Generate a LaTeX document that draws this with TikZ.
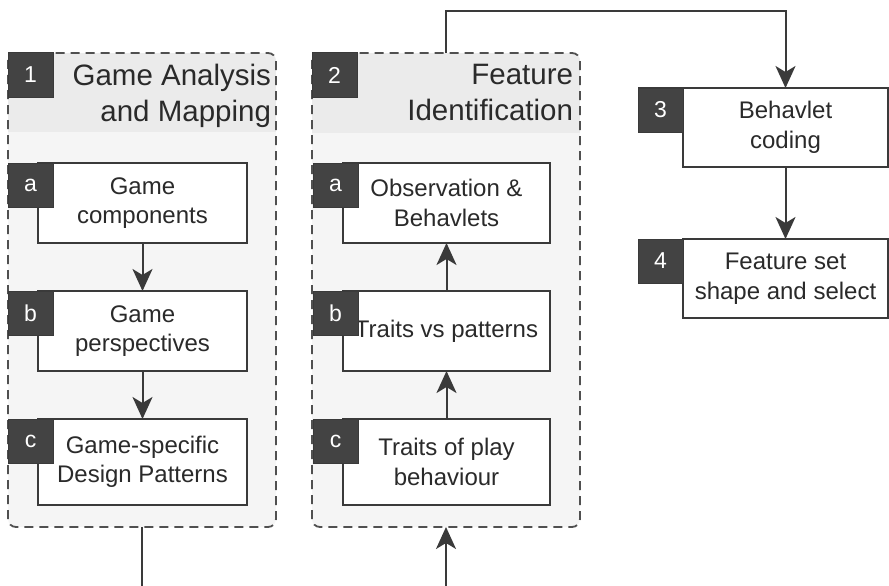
\documentclass[tikz,border=0pt]{standalone}
\usepackage{fontspec}
\setmainfont{Liberation Sans}
\usetikzlibrary{arrows.meta,calc}
\definecolor{ink}{HTML}{2A2A2A}
\definecolor{edge}{HTML}{3A3A3A}
\definecolor{badgefill}{HTML}{434343}
\definecolor{bodyfill}{HTML}{F5F5F5}
\definecolor{headfill}{HTML}{EBEBEB}
\definecolor{dashcol}{HTML}{505050}
\begin{document}
\begin{tikzpicture}[x=1pt,y=-1pt,
  box/.style={draw=edge, line width=2pt, fill=white, minimum width=209pt, minimum height=80pt,
    align=center, inner sep=0pt, outer sep=0pt, text=ink, font=\fontsize{24}{29.5}\selectfont},
  badge/.style={draw=edge, line width=1pt, fill=badgefill, minimum width=45pt, minimum height=44pt,
    inner sep=0pt, outer sep=0pt, text=white, font=\fontsize{23}{26}\selectfont, anchor=north west},
  cont/.style={fill=bodyfill, draw=none, rounded corners=8pt, minimum width=268pt, minimum height=474pt,
    inner sep=0pt, outer sep=0pt},
  dashborder/.style={draw=dashcol, line width=1.8pt, dash pattern=on 9pt off 6pt, rounded corners=8pt},
  head/.style={align=right, inner sep=0pt, outer sep=0pt, text=ink, font=\fontsize{29.5}{36}\selectfont, anchor=north east},
  conn/.style={draw=edge, line width=2pt},
  arr/.style={conn, -{Stealth[length=22pt,width=20pt,inset=6pt]}}
]
\useasboundingbox (0,0) rectangle (889,586);

% containers
\node[cont] (c1) at (142,290) {};
\node[cont] (c2) at (446,290) {};
\begin{scope}
  \clip[rounded corners=8pt] (c1.south west) rectangle (c1.north east);
  \fill[headfill] (c1.north west) rectangle ($(c1.north east)+(0,79)$);
\end{scope}
\begin{scope}
  \clip[rounded corners=8pt] (c2.south west) rectangle (c2.north east);
  \fill[headfill] (c2.north west) rectangle ($(c2.north east)+(0,80)$);
\end{scope}
\draw[dashborder] (c1.south west) rectangle (c1.north east);
\draw[dashborder] (c2.south west) rectangle (c2.north east);

\node[badge] (n1) at (c1.north west) {1};
\node[badge] (n2) at (c2.north west) {2};
\node[head] (h1) at (271,64) {Game Analysis\\and Mapping};
\node[head] (h2) at (573,64) {Feature\\Identification};

% column 1
\node[box] (a1) at (142.5,203) {Game\\components};
\node[box] (b1) at (142.5,331) {Game\\perspectives};
\node[box, minimum height=86pt] (k1) at (142.5,462) {Game-specific\\Design Patterns};
\node[badge] (la1) at ([xshift=-30pt]a1.north west) {a};
\node[badge] (lb1) at ([xshift=-30pt]b1.north west) {b};
\node[badge] (lc1) at ([xshift=-30pt]k1.north west) {c};

% column 2
\node[box, minimum width=207pt] (a2) at (446.5,203) {Observation \&\\Behavlets};
\node[box, minimum width=207pt] (b2) at (446.5,331) {Traits vs patterns};
\node[box, minimum width=207pt, minimum height=86pt] (k2) at (446.5,462) {Traits of play\\behaviour};
\node[badge] (la2) at ([xshift=-30pt]a2.north west) {a};
\node[badge] (lb2) at ([xshift=-30pt]b2.north west) {b};
\node[badge] (lc2) at ([xshift=-30pt]k2.north west) {c};

% right steps
\node[box, minimum width=205pt, minimum height=79pt] (s3) at (785.5,127.5) {Behavlet\\coding};
\node[box, minimum width=205pt, minimum height=79pt] (s4) at (785.5,278.5) {Feature set\\shape and select};
\node[badge] (n3) at ([xshift=-45pt]s3.north west) {3};
\node[badge] (n4) at ([xshift=-45pt]s4.north west) {4};

% connectors
\draw[arr] (a1) -- (b1);
\draw[arr] (b1) -- (k1);
\draw[arr] (k2) -- (b2);
\draw[arr] (b2) -- (a2);
\coordinate (endL) at (142,586);
\coordinate (startR) at (446,586);
\draw[conn] (c1.south) -- (endL);
\draw[arr] (startR) -- (c2.south);
\draw[arr] (c2.north) -- ++(0,-42) -| (s3.north);
\draw[arr] (s3) -- (s4);
\end{tikzpicture}
\end{document}
